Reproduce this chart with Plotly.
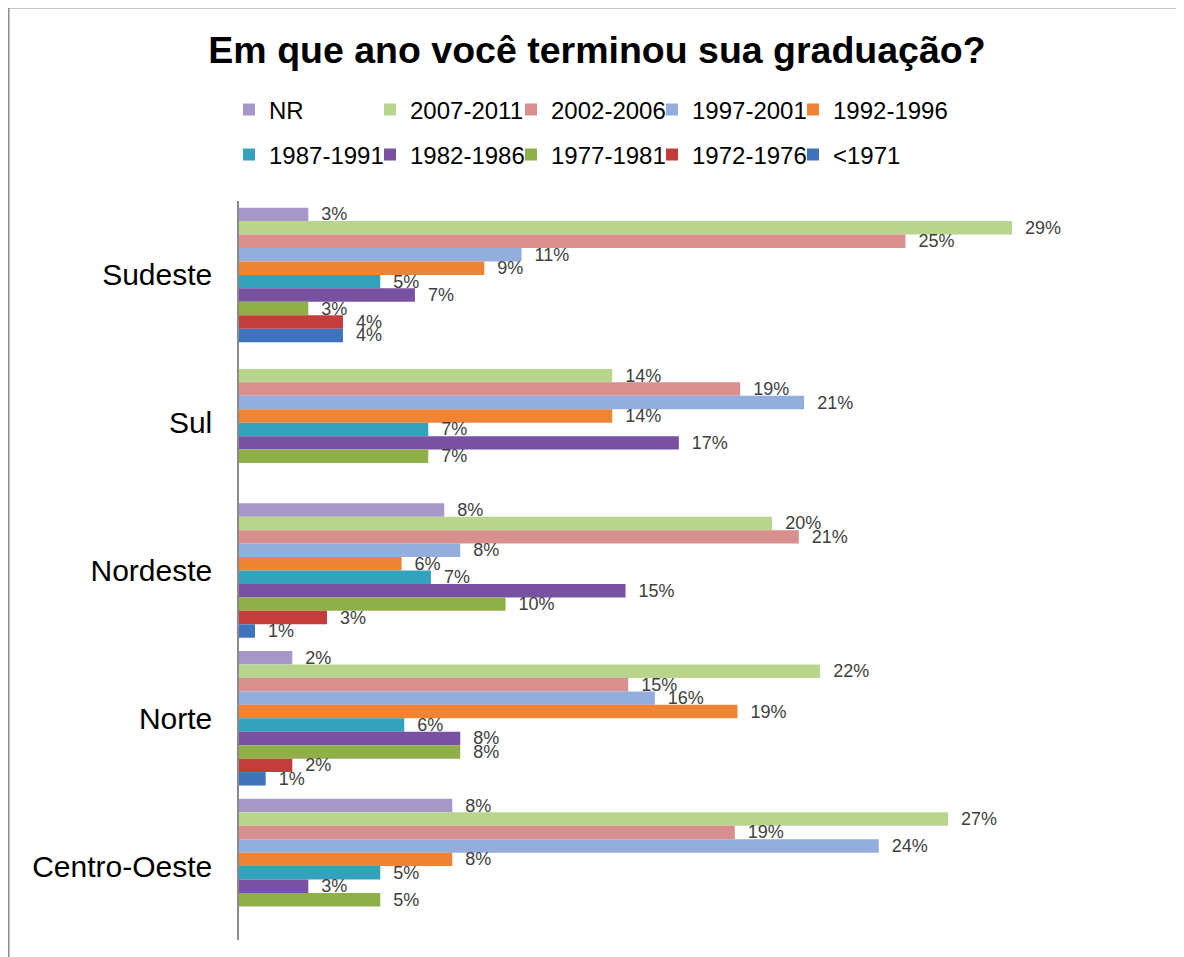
import plotly.graph_objects as go

regions = ["Sudeste", "Sul", "Nordeste", "Norte", "Centro-Oeste"]

series_names = ["NR", "2007-2011", "2002-2006", "1997-2001", "1992-1996",
                "1987-1991", "1982-1986", "1977-1981", "1972-1976", "<1971"]

nr        = [2.6, None, 7.7, 2.0, 8.0]
y2007     = [29.0, 14.0, 20.0, 21.8, 26.6]
y2002     = [25.0, 18.8, 21.0, 14.6, 18.6]
y1997     = [10.6, 21.2, 8.3, 15.6, 24.0]
y1992     = [9.2, 14.0, 6.1, 18.7, 8.0]
y1987     = [5.3, 7.1, 7.2, 6.2, 5.3]
y1982     = [6.6, 16.5, 14.5, 8.3, 2.6]
y1977     = [2.6, 7.1, 10.0, 8.3, 5.3]
y1972     = [3.9, None, 3.3, 2.0, None]
y_lt1971  = [3.9, None, 0.6, 1.0, None]

series_values = [nr, y2007, y2002, y1997, y1992, y1987, y1982, y1977, y1972, y_lt1971]

colors = ["#a697c8", "#b9d48c", "#d98f8d", "#93addc", "#ef8434",
          "#32a2bd", "#7852a0", "#8fb048", "#c53c3d", "#3f73bd"]

# layout geometry (the page body adds an 8px offset)
OFF = 8
W, H = 1184 - OFF, 957 - OFF
L, R, T, B = 231, 12, 193, 17
pw, ph = W - L - R, H - T - B

def px_x(p):  # screen pixel -> paper x
    return (p - OFF - L) / pw

def px_y(p):  # screen pixel -> paper y
    return (H - B - (p - OFF)) / ph

fig = go.Figure()
for i, (name, vals, col) in enumerate(zip(series_names, series_values, colors)):
    fig.add_trace(go.Bar(
        y=regions, x=vals, name=name, orientation="h",
        marker=dict(color=col, line=dict(width=0)),
        texttemplate="\u00a0\u00a0%{x:.0f}%", textposition="outside",
        textfont=dict(size=18, color="#404040", family="Liberation Sans, Arial"),
        constraintext="none", cliponaxis=False,
        legend="legend" if i < 5 else "legend2",
    ))

# invisible spacer entries so the last legend label of each row is not clipped
for lg in ["legend", "legend2"]:
    fig.add_trace(go.Scatter(x=[None], y=[None], mode="lines", name="",
                             line=dict(color="rgba(0,0,0,0)", width=0),
                             hoverinfo="skip", showlegend=True, legend=lg))

legend_common = dict(orientation="h", xanchor="left", yanchor="middle",
                     entrywidth=96, entrywidthmode="pixels", itemwidth=30,
                     font=dict(size=24, color="#000000"), bgcolor="rgba(0,0,0,0)",
                     traceorder="normal")

fig.update_layout(
    width=W, height=H,
    margin=dict(l=L, r=R, t=T, b=B, autoexpand=False),
    paper_bgcolor="white", plot_bgcolor="white",
    barmode="group", bargap=0.09, bargroupgap=0,
    font=dict(family="Liberation Sans, Arial", color="#000000"),
    title=dict(text="<b>Em que ano você terminou sua graduação?</b>",
               x=(597 - OFF) / W, xanchor="center", xref="container",
               y=1 - 42 / H, yanchor="middle",
               font=dict(size=37.5, color="#000000")),
    legend=dict(x=px_x(229), y=px_y(110), **legend_common),
    legend2=dict(x=px_x(229), y=px_y(155), **legend_common),
    xaxis=dict(range=[0, 35], showgrid=False, zeroline=False, showline=False,
               showticklabels=False, ticks=""),
    yaxis=dict(autorange="reversed", showgrid=False, zeroline=False,
               showline=True, linecolor="#8a8a8a", linewidth=1.5,
               ticks="", ticklabelstandoff=19,
               tickfont=dict(size=30, color="#000000")),
    shapes=[dict(type="rect", xref="paper", yref="paper",
                 x0=px_x(8), x1=px_x(1200), y0=px_y(975), y1=px_y(7),
                 line=dict(color="#8c8c8c", width=3), fillcolor="rgba(0,0,0,0)",
                 layer="below")],
)

fig.write_html("out.html")
